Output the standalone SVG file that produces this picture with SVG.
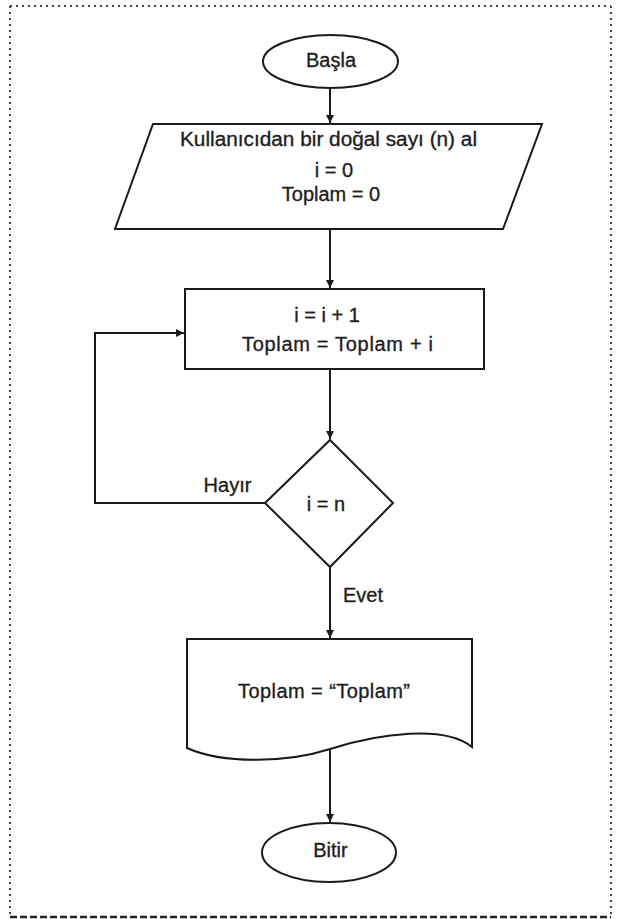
<svg xmlns="http://www.w3.org/2000/svg" width="619" height="919" viewBox="0 0 619 919">
  <defs>
    <style>
      .shape { fill: #ffffff; stroke: #1a1a1a; stroke-width: 2; }
      .line { fill: none; stroke: #1a1a1a; stroke-width: 2; }
      .label { font-family: "Liberation Sans", Arial, sans-serif; font-size: 20px; fill: #1e1e1e; stroke: #1e1e1e; stroke-width: 0.35; text-anchor: middle; }
      .frame { fill: none; stroke: #444; stroke-width: 2; stroke-dasharray: 2 4; }
      .frame-bottom { fill: none; stroke: #222; stroke-width: 2.5; stroke-dasharray: 7 3; }
    </style>
    <marker id="arrow" viewBox="0 0 10 10" refX="10" refY="5" markerWidth="9" markerHeight="8" markerUnits="userSpaceOnUse" orient="auto">
      <path d="M0,0 L10,5 L0,10 Z" fill="#1a1a1a"/>
    </marker>
  </defs>

  <rect width="619" height="919" fill="#ffffff"/>

  <!-- outer frame -->
  <g id="frame">
    <line class="frame" x1="10" y1="6" x2="611" y2="6"/>
    <line class="frame" x1="10" y1="6" x2="10" y2="917"/>
    <line class="frame" x1="611" y1="6" x2="611" y2="917"/>
    <line class="frame-bottom" x1="10" y1="917" x2="611" y2="917"/>
  </g>

  <!-- connectors -->
  <g id="connectors">
    <line class="line" x1="330" y1="88" x2="330" y2="123" marker-end="url(#arrow)"/>
    <line class="line" x1="330" y1="229" x2="330" y2="288" marker-end="url(#arrow)"/>
    <line class="line" x1="330" y1="369" x2="330" y2="439" marker-end="url(#arrow)"/>
    <polyline class="line" points="265,503 95,503 95,333 184,333" marker-end="url(#arrow)"/>
    <line class="line" x1="330" y1="567" x2="330" y2="638" marker-end="url(#arrow)"/>
    <line class="line" x1="330" y1="749" x2="330" y2="822" marker-end="url(#arrow)"/>
    <text class="label" x="227.5" y="492">Hayır</text>
    <text class="label" x="363" y="602">Evet</text>
  </g>

  <g id="start">
    <ellipse class="shape" cx="330.5" cy="61.5" rx="67.5" ry="26.5"/>
    <text class="label" x="331" y="67">Başla</text>
  </g>

  <g id="input">
    <polygon class="shape" points="153,124 542,124 503,229 115,229"/>
    <text class="label" x="328.5" y="146" textLength="297" lengthAdjust="spacingAndGlyphs">Kullanıcıdan bir doğal sayı (n) al</text>
    <text class="label" x="334" y="177">i = 0</text>
    <text class="label" x="331" y="201">Toplam = 0</text>
  </g>

  <g id="process">
    <rect class="shape" x="185" y="289" width="299" height="80"/>
    <text class="label" x="327" y="322">i = i + 1</text>
    <text class="label" x="337.5" y="351" textLength="191" lengthAdjust="spacing">Toplam = Toplam + i</text>
  </g>

  <g id="decision">
    <polygon class="shape" points="330,440 393,503 330,567 265,503"/>
    <text class="label" x="326" y="511">i = n</text>
  </g>

  <g id="output">
    <path class="shape" d="M187,639 L472,639 L472,747 C445,725 380,733 330,749 C290,762 225,765 187,748 Z"/>
    <text class="label" x="324" y="698" textLength="172" lengthAdjust="spacing">Toplam = “Toplam”</text>
  </g>

  <g id="end">
    <ellipse class="shape" cx="329" cy="852.5" rx="67" ry="29.5"/>
    <text class="label" x="330.5" y="857">Bitir</text>
  </g>
</svg>
